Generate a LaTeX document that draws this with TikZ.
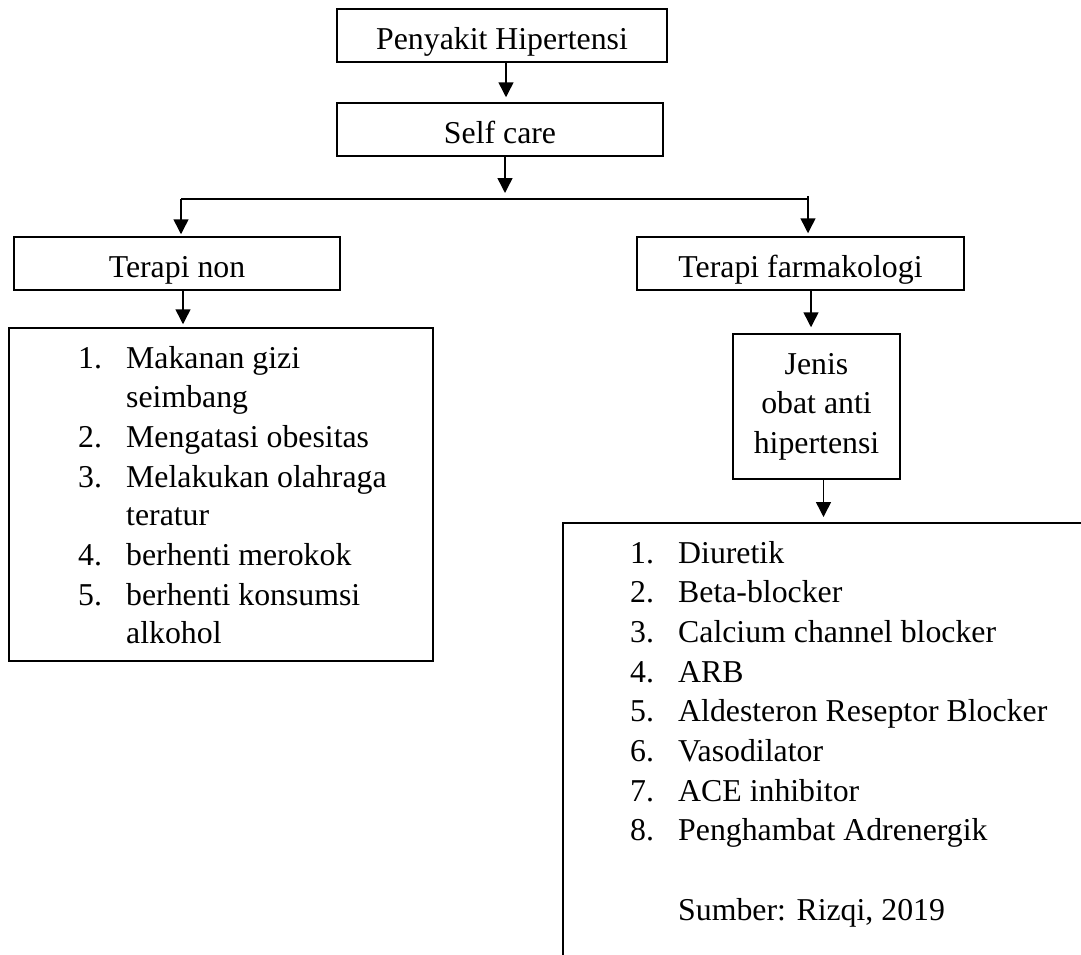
\documentclass[tikz,border=0pt]{standalone}
\usepackage{fontspec}
\setmainfont{Liberation Serif}
\usetikzlibrary{arrows.meta}
\begin{document}
\begin{tikzpicture}[x=1pt,y=-1pt,
  every node/.style={font=\fontsize{31.8pt}{39.5pt}\selectfont},
  box/.style={draw, line width=1.5pt, inner sep=0pt, text height=40pt, text depth=13pt},
  frame/.style={draw, line width=1.5pt, inner sep=0pt},
  item/.style={anchor=base west, inner sep=0pt},
  arr/.style={line width=1.5pt, -{Triangle[length=15pt,width=15pt]}},
  ln/.style={line width=1.5pt}]
\useasboundingbox (0,0) rectangle (1081,954);
\clip (0,0) rectangle (1081,954);
% boxes
\node[box, minimum width=330pt] (top) at (502,35.5) {Penyakit Hipertensi};
\node[box, minimum width=326pt] (self) at (500,129.5) {Self care};
\node[box, minimum width=326pt] (non) at (177,263.5) {Terapi non};
\node[box, minimum width=327pt] (farm) at (800.5,263.5) {Terapi farmakologi};
\node[frame, minimum width=167pt, minimum height=145pt, align=center] (jenis) at (816.5,406.5) {Jenis\\obat anti\\hipertensi};
\node[frame, minimum width=424pt, minimum height=333pt] (lbox) at (221,494.5) {};
\node[frame, minimum width=640pt, minimum height=480pt, anchor=north west] (rbox) at (562,522) {};
% junction
\coordinate (jl) at (181,199);
\coordinate (jr) at (808,196);
\coordinate (jc) at (505,199);
% connectors
\draw[arr, shorten >=5pt] ([xshift=4pt]top.south) -- ([xshift=4pt]top.south |- self.north);
\draw[arr, shorten >=6pt] (jc |- self.south) -- (jc);
\draw[ln] (jl) -- (jr |- jl);
\draw[arr, shorten >=2pt] (jl) -- (jl |- non.north);
\draw[arr, shorten >=3pt] (jr) -- (jr |- farm.north);
\draw[arr, shorten >=3pt] ([xshift=2pt]jl |- non.south) -- ([xshift=2pt]jl |- lbox.north);
\draw[arr, shorten >=6pt] ([xshift=3pt]jr |- farm.south) -- ([xshift=3pt]jr |- jenis.north);
\draw[arr, shorten >=5pt] ([xshift=7pt]jenis.south) -- ([xshift=7pt]jenis.south |- rbox.north);
% left list
\node[item] (l1n) at (78,368) {1.};
\node[item] (l1)  at (126,368) {Makanan gizi};
\node[item] (l1b) at (126,407) {seimbang};
\node[item] (l2n) at (78,447) {2.};
\node[item] (l2)  at (126,447) {Mengatasi obesitas};
\node[item] (l3n) at (78,487) {3.};
\node[item] (l3)  at (126,487) {Melakukan olahraga};
\node[item] (l3b) at (126,525) {teratur};
\node[item] (l4n) at (78,565) {4.};
\node[item] (l4)  at (126,565) {berhenti merokok};
\node[item] (l5n) at (78,605) {5.};
\node[item] (l5)  at (126,605) {berhenti konsumsi};
\node[item] (l5b) at (126,643) {alkohol};
% right list
\foreach \t [count=\i] in {Diuretik, Beta-blocker, Calcium channel blocker, ARB, Aldesteron Reseptor Blocker, Vasodilator, ACE inhibitor, Penghambat Adrenergik}{
  \node[item] (r\i n) at (630,{563+39.7*(\i-1)}) {\i.};
  \node[item] (r\i) at (678,{563+39.7*(\i-1)}) {\t};
}
\node[item] (src) at (678,920) {Sumber: Rizqi, 2019};
\end{tikzpicture}
\end{document}
